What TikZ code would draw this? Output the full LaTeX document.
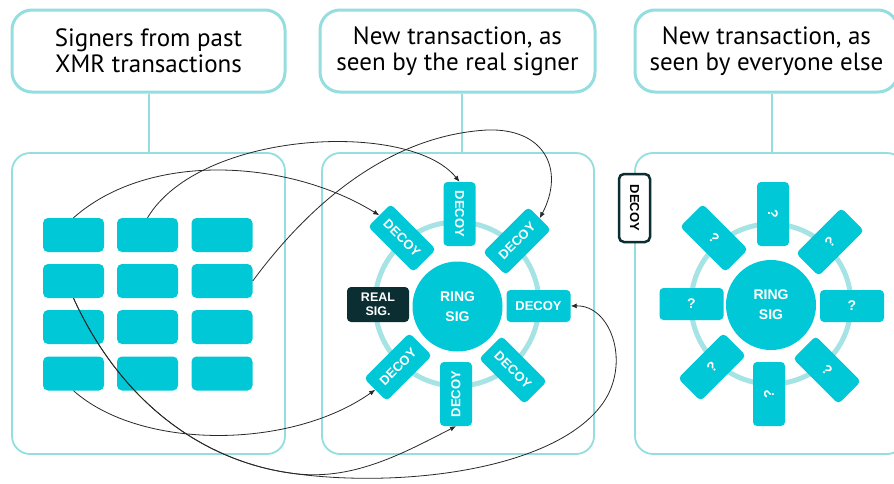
\documentclass[tikz,border=0pt]{standalone}
\usepackage{fontspec}
\setmainfont{Liberation Sans}
\newfontfamily\titlefont{PT Sans}
\usetikzlibrary{arrows.meta}
\definecolor{cyanbox}{RGB}{0,200,214}
\definecolor{tealline}{RGB}{148,222,224}
\definecolor{ringc}{RGB}{165,227,228}
\definecolor{darkbox}{RGB}{10,46,50}
\definecolor{curvec}{RGB}{40,40,40}
\begin{document}
\begin{tikzpicture}[x=1pt,y=1pt,
  titlebox/.style={draw=tealline, line width=3pt, rounded corners=20pt, fill=white,
    minimum height=82pt, align=center, inner sep=0pt,
    font=\titlefont\fontsize{25}{26}\selectfont},
  panel/.style={draw=tealline, line width=1.8pt, rounded corners=18pt, minimum height=301pt, inner sep=0pt},
  conn/.style={draw=tealline, line width=2pt},
  cell/.style={fill=cyanbox, rounded corners=5pt, minimum width=61pt, minimum height=34pt, inner sep=0pt},
  decoy/.style={fill=cyanbox, rounded corners=4pt, minimum width=64pt, minimum height=32pt, inner sep=0pt,
    text=white, font=\bfseries\fontsize{13}{13}\selectfont},
  qbox/.style={decoy, font=\bfseries\fontsize{14}{14}\selectfont},
  realsig/.style={fill=darkbox, rounded corners=4pt, minimum width=62pt, minimum height=35pt, inner sep=0pt,
    text=white, align=center, font=\bfseries\fontsize{12.5}{14}\selectfont},
  ringsig/.style={circle, fill=cyanbox, minimum size=90pt, inner sep=0pt, text=white, align=center,
    font=\bfseries\fontsize{14}{20}\selectfont},
  ringline/.style={draw=ringc, line width=5pt},
  outlinedecoy/.style={draw=darkbox, line width=2.5pt, fill=white, rounded corners=5pt, minimum width=68pt,
    minimum height=31pt, inner sep=0pt, text=black, font=\bfseries\fontsize{13}{13}\selectfont},
  curve/.style={draw=curvec, line width=0.8pt, -{Latex[length=6pt,width=5pt]}}
]
\useasboundingbox (0,0) rectangle (894,-483);
\clip (0,0) rectangle (894,-483);
\fill[white] (0,0) rectangle (894,-483);

% title boxes
\node[titlebox, minimum width=273pt] (t1) at (148.5,-51) {Signers from past\\XMR transactions};
\node[titlebox, minimum width=275pt] (t2) at (457.5,-51) {New transaction, as\\seen by the real signer};
\node[titlebox, minimum width=263pt] (t3) at (766.5,-51) {New transaction, as\\seen by everyone else};

% panels
\node[panel, minimum width=273pt] (p1) at (148.5,-303.5) {};
\node[panel, minimum width=272pt] (p2) at (458,-303.5) {};
\node[panel, minimum width=270pt] (p3) at (770,-303.5) {};

\draw[conn] (t1.south) -- (t1.south |- p1.north);
\draw[conn] ([xshift=4.5pt]t2.south) -- ([xshift=4.5pt]t2.south |- p2.north);
\draw[conn] ([xshift=5.5pt]t3.south) -- ([xshift=5.5pt]t3.south |- p3.north);

% grid of past signers
\foreach \c/\x in {1/73.5,2/147.5,3/222}{
  \foreach \r/\y in {1/235,2/281,3/327,4/373.5}{
    \node[cell] (c\r\c) at (\x,-\y) {};
  }
}

% panel 2 ring
\draw[ringline] (457,-304) circle (82);
\node[ringsig] (rs1) at (457.5,-306.5) {RING\\SIG};
\node[decoy, rotate=-90] (dT) at (459.5,-214) {DECOY};
\node[decoy, rotate=45] (dUR) at (517,-241) {DECOY};
\node[decoy] (dR) at (538.5,-306) {DECOY};
\node[decoy, rotate=-45] (dLR) at (513,-370) {DECOY};
\node[decoy, rotate=90] (dB) at (456,-394) {DECOY};
\node[decoy, rotate=45] (dLL) at (398,-367) {DECOY};
\node[decoy, rotate=-45] (dUL) at (402,-238) {DECOY};
\node[realsig] (real) at (378,-304.5) {REAL\\SIG.};

% panel 3 ring
\draw[ringline] (771,-304) circle (80);
\node[ringsig] (rs2) at (771,-305) {RING\\SIG};
\node[qbox, rotate=-90] (qT) at (773,-214) {?};
\node[qbox, rotate=45] (qUR) at (830,-242) {?};
\node[qbox] (qR) at (852,-306) {?};
\node[qbox, rotate=-45] (qLR) at (827,-370) {?};
\node[qbox, rotate=90] (qB) at (769,-394) {?};
\node[qbox, rotate=45] (qLL) at (712,-367) {?};
\node[qbox] (qL) at (691.5,-304) {?};
\node[qbox, rotate=-45] (qUL) at (714,-238) {?};

\node[outlinedecoy, rotate=-90] (dk) at (634.5,-208) {DECOY};

% connectors from past signers
\draw[curve] (c11.north) .. controls (150,-150) and (290,-160) .. (dUL.west);
\draw[curve] (c12.north) .. controls (200,-130) and (410,-120) .. (dT.west);
\draw[curve] (c23.east) .. controls (320,-190) and (400,-135) .. (487,-130)
   .. controls (545,-128) and (565,-170) .. (dUR.east);
\draw[curve] (c41.south) .. controls (140,-450) and (290,-450) .. (dLL.west);
\draw[curve] (c21.south) .. controls (120,-400) and (200,-460) .. (290,-473)
   .. controls (350,-482) and (400,-455) .. (dB.west);
\draw[curve] (c21.south) .. controls (120,-400) and (200,-460) .. (290,-473)
   .. controls (400,-489) and (560,-470) .. (605,-400)
   .. controls (630,-360) and (610,-305) .. (dR.east);
\end{tikzpicture}
\end{document}
